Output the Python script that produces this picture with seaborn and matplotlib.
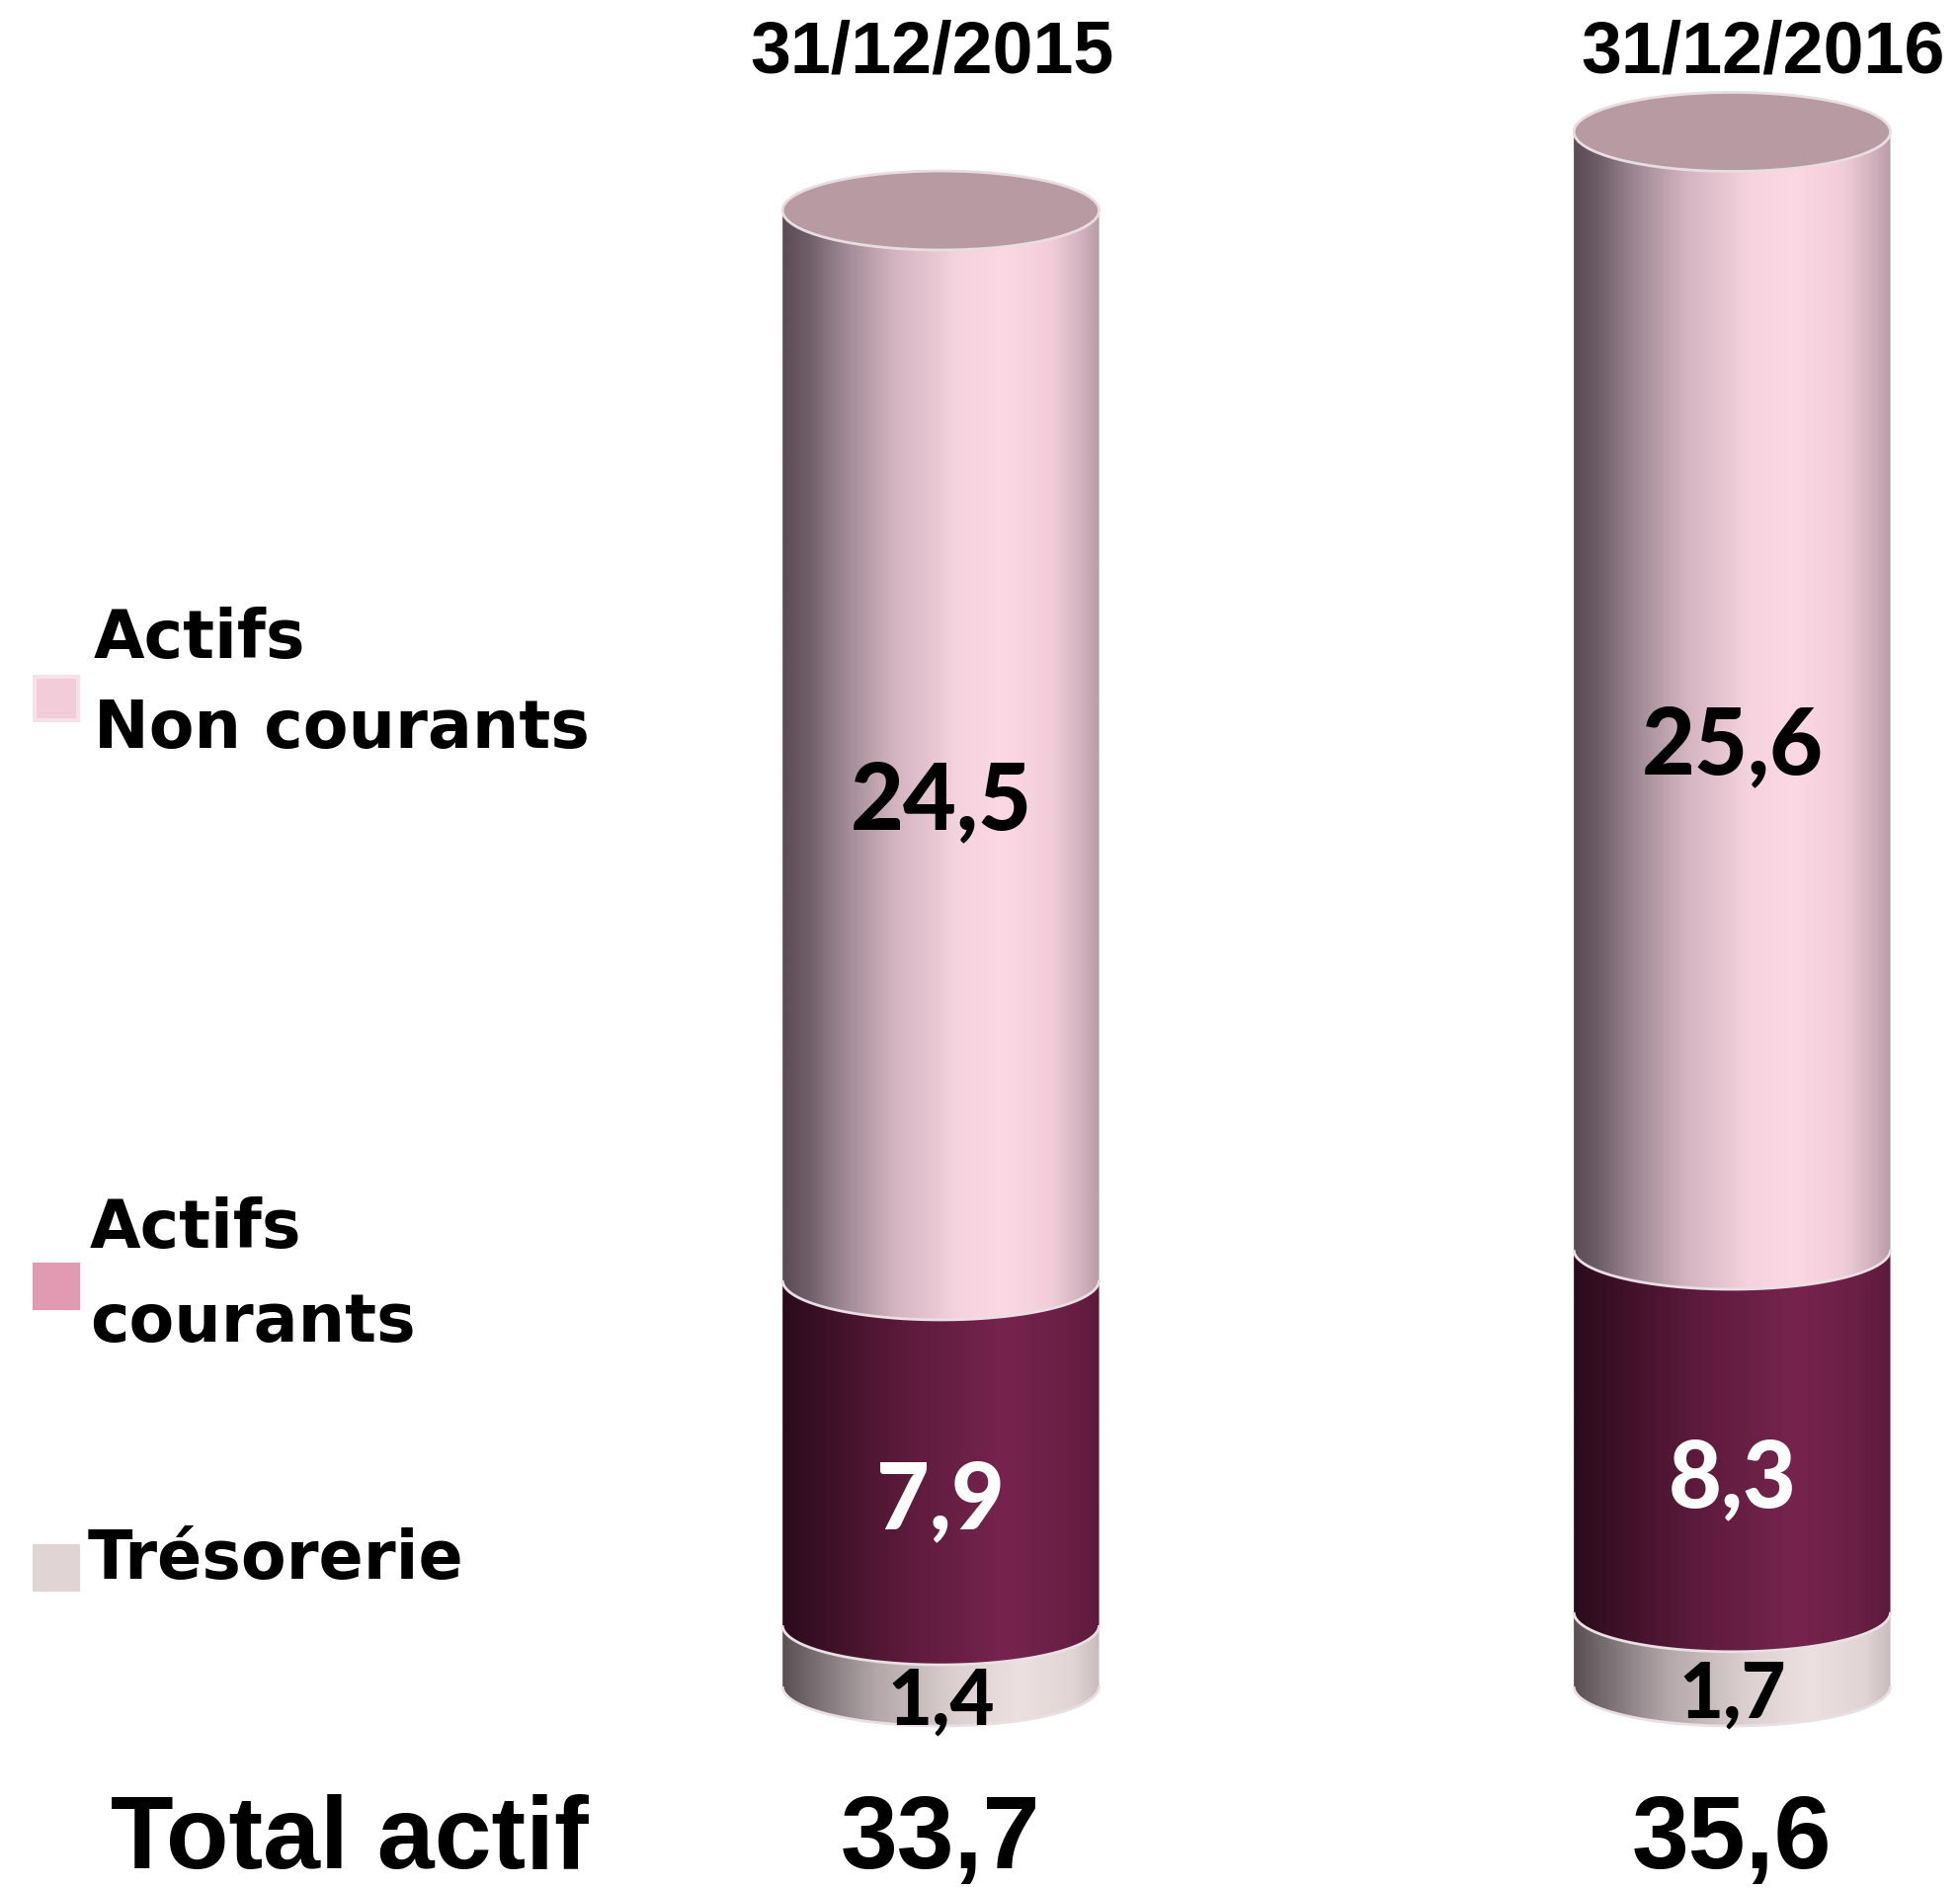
import numpy as np
import pandas as pd
import matplotlib
matplotlib.use("Agg")
import matplotlib.pyplot as plt
import seaborn as sns
from matplotlib.colors import LinearSegmentedColormap
from matplotlib.path import Path
from matplotlib.patches import PathPatch, Ellipse, Rectangle

# ---------------- data ----------------
dates = ["31/12/2015", "31/12/2016"]
seg_names = ["Actifs Non courants", "Actifs courants", "Trésorerie"]  # top -> bottom
tresorerie = [1.4, 1.7]
courants = [7.9, 8.3]
non_courants = [24.5, 25.6]
totals = [33.7, 35.6]
total_label = "Total actif"
legend_labels = [["Actifs", "Non courants"], ["Actifs", "courants"], ["Trésorerie"]]

# ---------------- styles ----------------
sns.set_theme(style="white")
plt.rcParams["font.family"] = ["Liberation Sans", "DejaVu Sans"]

W, H = 1984, 1910
fig = plt.figure(figsize=(W / 100, H / 100), dpi=100)
ax = fig.add_axes([0, 0, 1, 1])

seg_vals = {"Trésorerie": tresorerie, "Actifs courants": courants, "Actifs Non courants": non_courants}
bottom_up = ["Trésorerie", "Actifs courants", "Actifs Non courants"]
rows = []
cum = np.zeros(len(dates))
bottoms = {}
for s in bottom_up:
    bottoms[s] = cum.copy()
    cum = cum + np.array(seg_vals[s])
    for d, c, v in zip(dates, cum, seg_vals[s]):
        rows.append({"date": d, "segment": s, "cum": c, "value": v})
df = pd.DataFrame(rows)

sns.barplot(data=df, x="date", y="cum", hue="segment", hue_order=seg_names,
            dodge=False, width=0.4, ax=ax, legend=False,
            palette=["#f2ccd8", "#6a1e44", "#e0d4d4"])

cmaps = {
    "Actifs Non courants": LinearSegmentedColormap.from_list("nc", [
        (0.0, "#5a4b54"), (0.08, "#6f5e67"), (0.2, "#a08a95"), (0.35, "#d2b3bf"),
        (0.55, "#f4d2de"), (0.7, "#fcd8e4"), (0.85, "#f0cdd9"), (0.95, "#d0b0bc"), (1.0, "#b89ca6")]),
    "Actifs courants": LinearSegmentedColormap.from_list("c", [
        (0.0, "#2a0b1b"), (0.15, "#3e1128"), (0.4, "#5e1b3d"), (0.7, "#76244e"),
        (0.9, "#6a1f45"), (1.0, "#5c1a3b")]),
    "Trésorerie": LinearSegmentedColormap.from_list("t", [
        (0.0, "#5a5054"), (0.12, "#7e7478"), (0.3, "#b4a8aa"), (0.55, "#dcd0d0"),
        (0.75, "#ece0e0"), (0.92, "#e0d4d4"), (1.0, "#c8bcbe")]),
}
text_colors = {"Actifs Non courants": "black", "Actifs courants": "white", "Trésorerie": "black"}
text_sizes = {"Actifs Non courants": 67, "Actifs courants": 67, "Trésorerie": 56}
lab_off = {"Actifs Non courants": 1.3, "Actifs courants": 1.12, "Trésorerie": 1.06}

eh = 0.905          # half height of the cylinder ellipses (data units)
grad = np.linspace(0, 1, 256).reshape(1, -1)

for ci, s in enumerate(seg_names):
    cont = ax.containers[ci]
    z = 2 + (len(seg_names) - ci) * 2
    for j, p in enumerate(cont.patches):
        x0, w = p.get_x(), p.get_width()
        yt = p.get_height()
        yb = bottoms[s][j]
        cx = x0 + w / 2
        p.set_visible(False)
        th = np.linspace(np.pi, 2 * np.pi, 80)
        arc = np.column_stack([cx + (w / 2) * np.cos(th), yb + eh * np.sin(th)])
        verts = np.vstack([[x0, yt], [x0, yb], arc, [x0 + w, yb], [x0 + w, yt], [x0, yt]])
        codes = [Path.MOVETO] + [Path.LINETO] * (len(verts) - 2) + [Path.CLOSEPOLY]
        pp = PathPatch(Path(verts, codes), transform=ax.transData, facecolor="none", edgecolor="none")
        im = ax.imshow(grad, cmap=cmaps[s], extent=(x0, x0 + w, yb - eh - 0.1, yt + 0.1),
                       aspect="auto", interpolation="bilinear", zorder=z)
        im.set_clip_path(pp)
        ax.plot(arc[:, 0], arc[:, 1], color="#eadfe3", lw=2, zorder=z + 0.5, solid_capstyle="butt")
        if ci == 0:
            ax.add_patch(Ellipse((cx, yt), w, 2 * eh, facecolor="#b89aa2", edgecolor="#e8dde0",
                                 lw=2, zorder=z + 1))
        v = seg_vals[s][j]
        ax.text(cx, yb + v / 2 - lab_off[s], f"{v:.1f}".replace(".", ","), ha="center", va="center",
                fontsize=text_sizes[s], color=text_colors[s], fontweight="black",
                family=["Lato", "DejaVu Sans"], zorder=20)

# headers
hdr_x = [-0.011, 1.039]
for xi, d in zip(hdr_x, dates):
    ax.text(xi, 37.4, d, ha="center", va="center", fontsize=53, fontweight="bold", color="black")

# totals
for j, t in enumerate(totals):
    ax.text(j, -3.56, f"{t:.1f}".replace(".", ","), ha="center", va="center",
            fontsize=75, fontweight="bold", color="black")
ax.text(-0.747, -3.56, total_label, ha="center", va="center", fontsize=75, fontweight="bold", color="black")

# legend
leg_colors = ["#f2ccd8", "#e29ab2", "#e0d4d4"]
leg_edges = ["#f8e0e8", "#e29ab2", "#e0d4d4"]
sq = [(35, 685), (35, 1280), (35, 1565)]   # top-left px
line_y = [[647, 738], [1244, 1339], [1579]]
line_x = [95, 91, 89]
for k in range(3):
    x, y = sq[k]
    fig.patches.append(Rectangle((x / W, 1 - (y + 44) / H), 44 / W, 44 / H, transform=fig.transFigure,
                                 facecolor=leg_colors[k], edgecolor=leg_edges[k], lw=3))
    for txt, yy in zip(legend_labels[k], line_y[k]):
        fig.text(line_x[k] / W, 1 - yy / H, txt, ha="left", va="center", fontsize=48,
                 fontweight="bold", family=["DejaVu Sans"], color="black")

ax.set_xlim(-1.189, 1.288)
ax.set_ylim(-4.593, 38.62)
ax.axis("off")
fig.savefig("out.png", dpi=100, facecolor="white")
